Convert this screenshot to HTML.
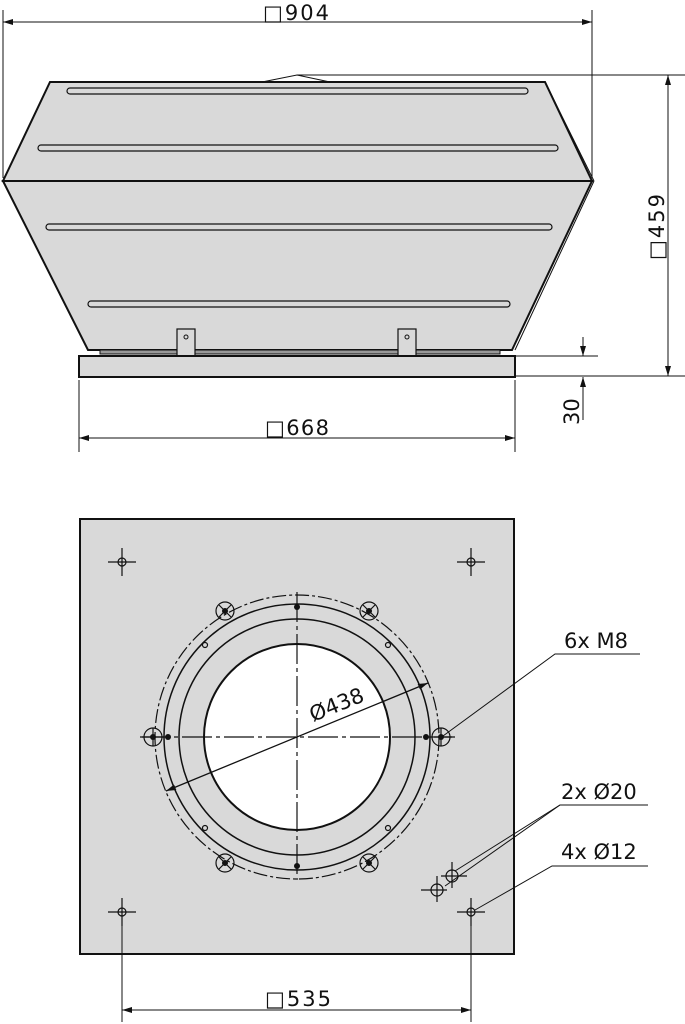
<!DOCTYPE html>
<html><head><meta charset="utf-8"><style>
html,body{margin:0;padding:0;background:#fff}
svg{display:block}
text{font-family:"DejaVu Sans","Liberation Sans",sans-serif;fill:#111}
</style></head><body>
<svg width="685" height="1024" viewBox="0 0 685 1024" xmlns="http://www.w3.org/2000/svg">
<defs>
<marker id="a" viewBox="0 0 10 6" refX="10" refY="3" markerWidth="10" markerHeight="6" orient="auto-start-reverse" markerUnits="userSpaceOnUse"><path d="M0,0 L10,3 L0,6 z" fill="#111"/></marker>
</defs>
<g stroke="#111" fill="none">
<polygon points="50,82 545,82 592,181 3,181" fill="#d9d9d9" stroke-width="2"/>
<polygon points="3,181 592,181 512,350 88,350" fill="#d9d9d9" stroke-width="2"/>
<line x1="545" y1="82" x2="594" y2="181" stroke-width="1"/>
<line x1="594" y1="181" x2="515" y2="350" stroke-width="1"/>
<polyline points="262,82 297,75 330,82" stroke-width="1"/>
<g stroke-width="1.2" fill="#d9d9d9">
<rect x="67" y="88" width="461" height="6" rx="3"/>
<rect x="38" y="145" width="520" height="6" rx="3"/>
<rect x="46" y="224" width="506" height="6" rx="3"/>
<rect x="88" y="301" width="422" height="6" rx="3"/>
</g>
<rect x="100" y="350" width="400" height="4" fill="#999" stroke-width="1"/>
<rect x="177" y="329" width="18" height="27" fill="#d9d9d9" stroke-width="1.2"/>
<rect x="398" y="329" width="18" height="27" fill="#d9d9d9" stroke-width="1.2"/>
<circle cx="186" cy="337" r="2" stroke-width="1"/>
<circle cx="407" cy="337" r="2" stroke-width="1"/>
<rect x="79" y="356" width="436" height="21" fill="#d9d9d9" stroke-width="2"/>
<g stroke-width="1">
<line x1="3" y1="10" x2="3" y2="178"/>
<line x1="592" y1="10" x2="592" y2="178"/>
<line x1="3" y1="22" x2="592" y2="22" marker-start="url(#a)" marker-end="url(#a)"/>
<line x1="297" y1="75" x2="685" y2="75"/>
<line x1="515" y1="376" x2="685" y2="376"/>
<line x1="668" y1="75" x2="668" y2="376" marker-start="url(#a)" marker-end="url(#a)"/>
<line x1="515" y1="356" x2="598" y2="356"/>
<line x1="583" y1="337" x2="583" y2="356" marker-end="url(#a)"/>
<line x1="583" y1="420" x2="583" y2="377" marker-end="url(#a)"/>
<line x1="79" y1="380" x2="79" y2="452"/>
<line x1="515" y1="380" x2="515" y2="452"/>
<line x1="79" y1="438" x2="515" y2="438" marker-start="url(#a)" marker-end="url(#a)"/>
</g>
<rect x="80" y="519" width="434" height="435" fill="#d9d9d9" stroke-width="2"/>
<circle cx="297" cy="737" r="142" stroke-width="1.2" stroke-dasharray="14,3,3,3"/>
<circle cx="297" cy="737" r="133" stroke-width="1.5"/>
<circle cx="297" cy="737" r="118" stroke-width="1.5"/>
<circle cx="297" cy="737" r="93" fill="#fff" stroke-width="2"/>
<g stroke-width="1.2" stroke-dasharray="30,4,4,4">
<line x1="140" y1="737" x2="455" y2="737"/>
<line x1="297" y1="592" x2="297" y2="880"/>
</g>
<g stroke-width="1.2">
<circle cx="153" cy="737" r="9"/><circle cx="441" cy="737" r="9"/>
<circle cx="225" cy="611" r="9"/><circle cx="369" cy="611" r="9"/>
<circle cx="225" cy="863" r="9"/><circle cx="369" cy="863" r="9"/>
<path d="M219,605 l12,12 M219,617 l12,-12 M363,605 l12,12 M363,617 l12,-12 M219,857 l12,12 M219,869 l12,-12 M363,857 l12,12 M363,869 l12,-12"/>
<path d="M142,737 h22 M153,728 v18 M430,737 h22 M441,728 v18"/>
<circle cx="205" cy="645" r="2.5"/><circle cx="388" cy="645" r="2.5"/>
<circle cx="205" cy="828" r="2.5"/><circle cx="388" cy="828" r="2.5"/>
</g>
<g fill="#111" stroke="none">
<circle cx="168" cy="737" r="3"/><circle cx="426" cy="737" r="3"/>
<circle cx="297" cy="607" r="3"/><circle cx="297" cy="866" r="3"/>
<circle cx="153" cy="737" r="3"/><circle cx="441" cy="737" r="3"/>
<circle cx="225" cy="611" r="3"/><circle cx="369" cy="611" r="3"/>
<circle cx="225" cy="863" r="3"/><circle cx="369" cy="863" r="3"/>
</g>
<line x1="166" y1="791" x2="428" y2="683" stroke-width="1.3" marker-start="url(#a)" marker-end="url(#a)"/>
<g stroke-width="1.2">
<circle cx="122" cy="562" r="4"/><path d="M108,562 h28 M122,548 v28"/>
<circle cx="471" cy="562" r="4"/><path d="M457,562 h28 M471,548 v28"/>
<circle cx="122" cy="912" r="4"/><path d="M108,912 h28 M122,898 v28"/>
<circle cx="471" cy="912" r="4"/><path d="M457,912 h28 M471,898 v28"/>
<circle cx="452" cy="876" r="6"/><path d="M441,876 h26 M452,862 v26"/>
<circle cx="437" cy="890" r="6"/><path d="M421,890 h26 M437,876 v26"/>
</g>
<g stroke-width="1">
<polyline points="640,654 555,654 443,736" />
<polyline points="648,805 560,805 455,871"/>
<line x1="560" y1="805" x2="445" y2="886"/>
<polyline points="648,866 552,866 475,910"/>
<line x1="122" y1="918" x2="122" y2="1022"/>
<line x1="471" y1="918" x2="471" y2="1022"/>
<line x1="122" y1="1010" x2="471" y2="1010" marker-start="url(#a)" marker-end="url(#a)"/>
</g>
</g>
<g font-size="21">
<text x="263" y="20" textLength="66">□904</text>
<text x="265" y="435" textLength="64">□668</text>
<text x="265" y="1006" textLength="66">□535</text>
<text transform="translate(664,260) rotate(-90)" textLength="66">□459</text>
<text transform="translate(579,425) rotate(-90)">30</text>
<text transform="translate(313,722) rotate(-22)">Ø438</text>
<text x="564" y="648">6x M8</text>
<text x="561" y="799">2x Ø20</text>
<text x="561" y="859">4x Ø12</text>
</g>
</svg>
</body></html>
